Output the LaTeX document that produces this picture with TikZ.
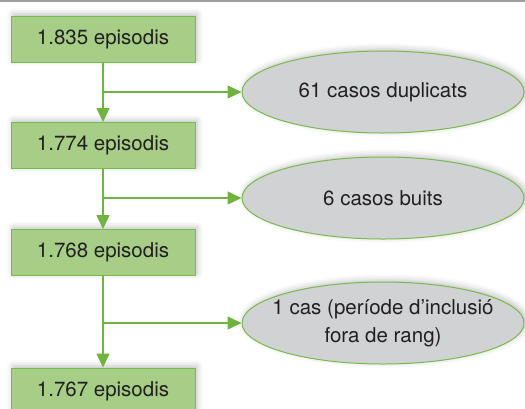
\documentclass[tikz,border=0pt]{standalone}
\usepackage{fontspec}
\setmainfont{TeX Gyre Heros}
\usetikzlibrary{shapes,arrows.meta,shadows.blur}

\definecolor{verdcaixa}{RGB}{166,206,134}
\definecolor{verdvora}{RGB}{120,186,76}
\definecolor{verdfletxa}{RGB}{110,180,62}
\definecolor{griscas}{RGB}{209,210,212}
\definecolor{textfosc}{RGB}{35,31,32}

\begin{document}
\begin{tikzpicture}[x=1pt,y=-1pt,
   episodi/.style={draw=verdvora, fill=verdcaixa, line width=1pt,
      minimum width=184pt, minimum height=46pt, inner sep=0pt,
      text=textfosc, font=\fontsize{20.5}{24}\selectfont,
      blur shadow={shadow xshift=2pt, shadow yshift=2pt, shadow blur radius=6pt, shadow opacity=25}},
   cas/.style={ellipse, draw=verdvora, fill=griscas, line width=1pt,
      minimum width=282pt, minimum height=82pt, inner xsep=-12pt, inner ysep=0pt,
      text=textfosc, align=center, font=\fontsize{20.5}{28}\selectfont,
      blur shadow={shadow xshift=2pt, shadow yshift=2pt, shadow blur radius=6pt, shadow opacity=25}},
   fletxa/.style={draw=verdfletxa, line width=1.5pt,
      -{Triangle[length=14pt,width=13pt]}}]
\useasboundingbox (0,0) rectangle (525,408);
\clip (0,0) rectangle (525,408);
\draw[line width=1.5pt, gray!75] (0,1) -- (525,1);

\node[episodi] (e1) at (103,39) {1.835 episodis};
\node[episodi] (e2) at (103,145.5) {1.774 episodis};
\node[episodi] (e3) at (103,252.5) {1.768 episodis};
\node[episodi] (e4) at (103,391) {1.767 episodis};

\node[cas] (c1) at (383,92) {61 casos duplicats};
\node[cas] (c2) at (383,198) {6 casos buits};
\node[cas] (c3) at (383,323) {1 cas (període d’inclusió\\fora de rang)};

\coordinate (b1) at (103,92);
\coordinate (b2) at (103,198);
\coordinate (b3) at (103,323);

% flux principal
\draw[fletxa] (e1.south) -- (e2.north);
\draw[fletxa] (e2.south) -- (e3.north);
\draw[fletxa] (e3.south) -- (e4.north);
% exclusions
\draw[fletxa] (b1) -- (c1.west);
\draw[fletxa] (b2) -- (c2.west);
\draw[fletxa] (b3) -- (c3.west);
\end{tikzpicture}
\end{document}
